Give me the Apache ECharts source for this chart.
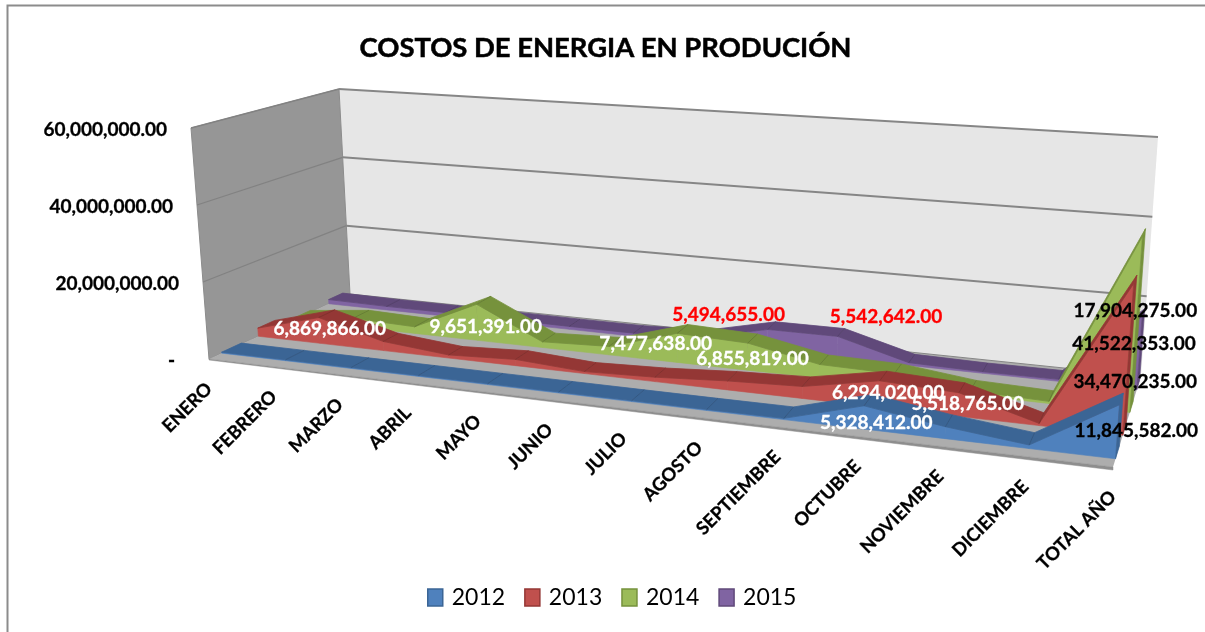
<!DOCTYPE html>
<html><head><meta charset="utf-8">
<style>html,body{margin:0;padding:0;background:#fff}#c{width:1205px;height:632px}</style>
<script src="https://cdn.jsdelivr.net/npm/echarts@6/dist/echarts.min.js"></script>
</head><body><div id="c"></div>
<script>
const categories=['ENERO','FEBRERO','MARZO','ABRIL','MAYO','JUNIO','JULIO','AGOSTO','SEPTIEMBRE','OCTUBRE','NOVIEMBRE','DICIEMBRE','TOTAL AÑO'];
const years=['2012','2013','2014','2015'];
const v2012=[250000,250000,250000,250000,250000,250000,250000,250000,300000,5328412,2700000,800000,11845582];
const v2013=[2200000,6869866,2400000,800000,1600000,500000,1100000,2200000,2900000,6294020,5518765,500000,34470235];
const v2014=[500000,2300000,1800000,9651391,1500000,2200000,7477638,6855819,3400000,3100000,1000000,500000,41522353];
const v2015=[1200000,1000000,1000000,900000,800000,800000,1500000,5494655,5542642,700000,400000,500000,17904275];
const yTicks=[0,20000000,40000000,60000000];
const labelled=[[9],[1,9,10],[3,6,7],[7,8]];

// view of the 3-D box
const corners={flb:[209,359],frb:[1113,467],blb:[350,294],brb:[1141,376],flt:[191,128],frt:[1133,190],blt:[339,89],brt:[1158,137]};
const persp=1.18;
const slots=[[.09,.23],[.35,.47],[.6,.72],[.85,.95]];
const faces=[{front:'#4f81bd',top:'#3b6595'},{front:'#c0504d',top:'#943735'},{front:'#9bbb59',top:'#76923c'},{front:'#8064a2',top:'#60497a'}];
const labelStyle=[
 {9:[8,23,'#fff'],12:[15,32,'#000']},
 {1:[3,15,'#fff'],9:[5,17,'#fff'],10:[6,16,'#fff'],12:[0,102,'#000']},
 {3:[2,27,'#fff'],6:[-27,15,'#fff'],7:[0,20,'#fff'],12:[-10,111,'#000']},
 {7:[-43,-11,'#f00'],8:[45,-16,'#f00'],12:[-8,-2,'#000']}];
const FONT='Lato, Carlito, Calibri, sans-serif';

const lerp=(a,b,k)=>[a[0]+(b[0]-a[0])*k,a[1]+(b[1]-a[1])*k];
function project(t,d,h){
  const s=t/(t+(1-t)*persp), c=corners;
  const b=lerp(lerp(c.flb,c.frb,s),lerp(c.blb,c.brb,s),d);
  const u=lerp(lerp(c.flt,c.frt,s),lerp(c.blt,c.brt,s),d);
  return lerp(b,u,h);
}
// data -> grid (library scales) -> unit box -> screen
function toBox(params,api,i,v){
  const p=api.coord([i,v]), g=params.coordSys;
  return [(p[0]-g.x)/g.width,(g.y+g.height-p[1])/g.height];
}
const poly=(pts,fill,z2,stroke,lw)=>({type:'polygon',shape:{points:pts},z2:z2||0,style:{fill:fill,stroke:stroke||fill,lineWidth:lw===undefined?.6:lw}});
const line=(a,b,col,w,z2)=>({type:'line',shape:{x1:a[0],y1:a[1],x2:b[0],y2:b[1]},z2:z2||1,style:{stroke:col,lineWidth:w}});

function renderFrame(params,api){
  const P=project, kids=[];
  kids.push(poly([P(0,1,0),P(1,1,0),P(1,1,1),P(0,1,1)],'#e6e6e6',0,'#e6e6e6',0));
  kids.push(poly([P(0,0,0),P(0,1,0),P(0,1,1),P(0,0,1)],'#969696',0,'#8c8c8c',1));
  kids.push(poly([P(0,0,0),P(1,0,0),P(1,1,0),P(0,1,0)],'#adadad',1,'#adadad',0));
  const drop=3;
  kids.push(poly([P(0,0,0),P(1,0,0),[P(1,0,0)[0],P(1,0,0)[1]+drop],[P(0,0,0)[0],P(0,0,0)[1]+drop-2]],'#8e8e8e',1,'#8e8e8e',.5));
  yTicks.forEach(v=>{
    const h=toBox(params,api,0,v)[1];
    if(v>0) kids.push(line(P(0,0,h),P(0,1,h),'#828282',1.3,2));
    kids.push(line(P(0,1,h),P(1,1,h),'#868686',v?2:1,2));
    const a=P(0,0,h);
    kids.push({type:'text',x:a[0]-(v?24:34),y:a[1]+2,z2:3,style:{text:v?v.toLocaleString('en-US',{minimumFractionDigits:2}):'-',align:'right',verticalAlign:'middle',fill:'#000',stroke:'#000',lineWidth:.3,font:'bold 19px '+FONT}});
  });
  categories.forEach((c,i)=>{
    const t=toBox(params,api,i,0)[0], a=P(t,0,0);
    kids.push({type:'text',x:a[0],y:a[1]+27,rotation:Math.PI/4,z2:3,style:{text:c,align:'right',verticalAlign:'middle',fill:'#000',stroke:'#000',lineWidth:.3,font:'bold 18.3px '+FONT}});
  });
  return {type:'group',children:kids};
}
function renderYear(k,vals){
  return function(params,api){
    const i=api.value(0), v=api.value(1), [d0,d1]=slots[k], f=faces[k], kids=[];
    const [t,h]=toBox(params,api,i,v), base=toBox(params,api,i,0)[1];
    if(i<vals.length-1){
      const [t2,h2]=toBox(params,api,i+1,vals[i+1]);
      kids.push(poly([project(t,d0,base),project(t2,d0,base),project(t2,d0,h2),project(t,d0,h)],f.front,2));
      kids.push(poly([project(t,d0,h),project(t2,d0,h2),project(t2,d1,h2),project(t,d1,h)],f.top,3,f.top,.8));
      if(i>0) kids.push(line(project(t,d0,h),project(t,d1,h),'rgba(0,0,0,.13)',1,5));
    } else {
      kids.push(poly([project(t,d0,base),project(t,d1,base),project(t,d1,h),project(t,d0,h)],f.top,4));
    }
    return {type:'group',children:kids};
  };
}
function renderLabels(params,api){
  const k=api.value(2), i=api.value(0), v=api.value(1), s=labelStyle[k][i];
  const [t,h]=toBox(params,api,i,v), a=project(t,(slots[k][0]+slots[k][1])/2,h);
  return {type:'text',x:a[0]+s[0],y:a[1]+s[1],z2:50,style:{text:v.toLocaleString('en-US',{minimumFractionDigits:2,maximumFractionDigits:2}),align:'center',verticalAlign:'middle',fill:s[2],stroke:s[2],lineWidth:.3,font:'bold 19px '+FONT}};
}
const allVals=[v2012,v2013,v2014,v2015];
const labelData=[];
allVals.forEach((vals,k)=>{labelled[k].concat([12]).forEach(i=>labelData.push([i,vals[i],k]));});

const series=[{type:'custom',name:'frame',silent:true,clip:false,z:1,renderItem:renderFrame,data:[[0,0]]}];
[3,2,1,0].forEach(k=>series.push({type:'custom',name:years[k],silent:true,clip:false,z:2+(3-k),
  itemStyle:{color:faces[k].front},renderItem:renderYear(k,allVals[k]),data:allVals[k].map((v,i)=>[i,v])}));
series.push({type:'custom',name:'labels',silent:true,clip:false,z:10,renderItem:renderLabels,data:labelData});

const chart=echarts.init(document.getElementById('c'),null,{renderer:'canvas'});
chart.setOption({
  animation:false,backgroundColor:'#fff',
  title:{text:'COSTOS DE ENERGIA EN PRODUCIÓN',left:600.5,top:30,textAlign:'center',textStyle:{fontFamily:FONT,fontWeight:'bold',fontSize:27.4,color:'#000',textBorderColor:'#000',textBorderWidth:.5}},
  legend:{data:years.map((y,k)=>({name:y,icon:'rect',itemStyle:{color:faces[k].front,borderColor:faces[k].top,borderWidth:1.5}})),left:427,top:586,padding:0,itemWidth:15,itemHeight:17,itemGap:19,selectedMode:false,textStyle:{fontFamily:FONT,fontSize:23,color:'#000',padding:[0,0,0,4]}},
  grid:{left:100,right:100,top:100,bottom:100},
  xAxis:{type:'category',data:categories,boundaryGap:false,show:false},
  yAxis:{type:'value',min:0,max:60000000,interval:20000000,show:false},
  graphic:[{type:'rect',silent:true,shape:{x:7.5,y:5.5,width:1400,height:800},style:{fill:'none',stroke:'#8c8c8c',lineWidth:2},z:-1}],
  series:series
});
</script></body></html>
